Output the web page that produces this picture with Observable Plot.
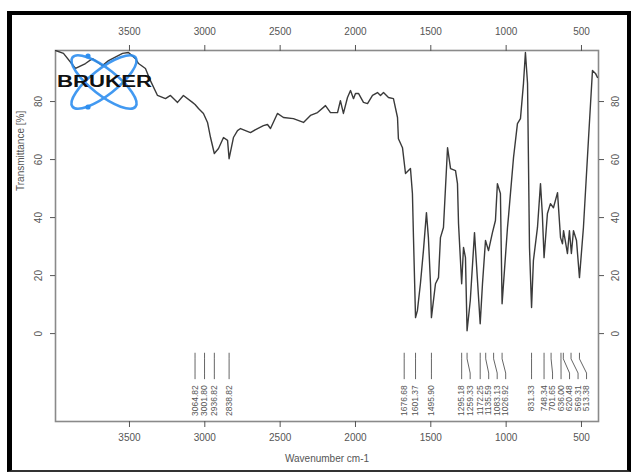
<!DOCTYPE html>
<html>
<head>
<meta charset="utf-8">
<script src="https://cdn.jsdelivr.net/npm/d3@7"></script>
<script src="https://cdn.jsdelivr.net/npm/@observablehq/plot@0.6"></script>
<style>
  body { margin: 0; background: #fff; }
  #wrap { position: relative; width: 632px; height: 472px; overflow: hidden; font-family: "Liberation Sans", Arial, sans-serif; }
  #chart { position: absolute; left: 0; top: 0; }
  #logo { position: absolute; left: 0; top: 0; pointer-events: none; }
  #border { position: absolute; left: 7px; top: 11px; right: 1px; bottom: 0; box-sizing: border-box;
            border-left: 5px solid #000; border-top: 4px solid #000; border-right: 4px solid #000; border-bottom: 2px solid #333; pointer-events: none; }
</style>
</head>
<body>
<div id="wrap">
  <div id="chart"></div>
  <svg id="logo" width="632" height="472">
    <g fill="none" stroke="#2e8ff0" stroke-width="2.6" opacity="0.9">
      <ellipse cx="104" cy="82" rx="40" ry="13" transform="rotate(38 104 82)"></ellipse>
      <ellipse cx="104" cy="82" rx="40" ry="13" transform="rotate(-38 104 82)"></ellipse>
    </g>
    <circle cx="88" cy="107" r="2.6" fill="#2e8ff0"></circle>
    <circle cx="88" cy="56" r="2.6" fill="#2e8ff0"></circle>
    <text x="57" y="87" font-family="Liberation Sans, Arial, sans-serif" font-weight="bold" font-size="16"
          textLength="95" lengthAdjust="spacingAndGlyphs" fill="#111">BRUKER</text>
  </svg>
  <div id="border"></div>
</div>
<script>
// FT-IR spectrum: transmittance (%) against wavenumber (cm-1)
const wavenumber = [
  3990, 3938, 3858, 3792, 3746, 3679, 3639, 3546, 3507, 3460, 3440, 3394, 3361, 3314, 3261, 3228,
  3181, 3142, 3082, 3064.82, 3042, 3009, 2982, 2962, 2936.82, 2909, 2876, 2849, 2838.82, 2810, 2783, 2763,
  2697, 2650, 2611, 2584, 2564, 2518, 2478, 2412, 2345, 2299, 2252, 2199, 2166, 2119, 2100, 2080,
  2053, 2033, 2013, 2000, 1980, 1947, 1920, 1887, 1854, 1834, 1814, 1781, 1748, 1721, 1715, 1688,
  1668, 1635, 1622, 1615, 1601.37, 1589, 1569, 1549, 1529, 1516, 1502, 1495.90, 1469, 1449, 1436, 1416,
  1389, 1369, 1336, 1323, 1316, 1295.18, 1283, 1270, 1259.33, 1238, 1210, 1172.25, 1157, 1137, 1117, 1091,
  1071, 1058, 1038, 1026.92, 991, 985, 951, 925, 905, 885, 872, 858, 845, 831.33, 819, 792,
  772, 760, 748.34, 726, 706, 686, 659, 639, 626, 619, 593, 580, 567, 553, 533, 513.38,
  487, 454, 427, 407, 394
];
const transmittance = [
  97.6, 96.6, 91.4, 93.1, 94.8, 92.4, 94.1, 96.6, 96.9, 94.8, 93.1, 91.4, 87.2, 82.1, 81.0, 82.1,
  79.7, 82.1, 79.7, 79.0, 77.6, 75.9, 72.8, 67.6, 62.1, 63.8, 67.6, 66.6, 60.3, 67.6, 70.0, 70.7,
  69.3, 70.7, 71.7, 72.1, 70.7, 75.9, 74.5, 74.1, 72.8, 75.2, 76.2, 78.6, 76.2, 76.2, 80.3, 75.9,
  81.4, 83.8, 81.0, 82.8, 82.8, 79.7, 79.3, 82.1, 83.1, 82.1, 83.1, 81.4, 81.0, 74.5, 67.2, 64.1,
  55.2, 56.9, 48.3, 33.1, 5.5, 7.9, 17.2, 28.6, 41.7, 33.1, 17.2, 5.5, 17.2, 19.3, 33.1, 36.6,
  64.1, 56.9, 56.2, 51.7, 37.9, 17.2, 29.7, 26.2, 1.0, 11.4, 34.8, 3.4, 17.2, 32.1, 28.6, 34.8,
  39.0, 51.7, 48.3, 10.3, 36.6, 40.0, 60.7, 72.4, 74.1, 86.2, 96.9, 86.2, 29.7, 9.0, 25.2, 36.6,
  51.7, 41.4, 26.2, 41.4, 44.8, 43.4, 48.6, 33.1, 31.0, 35.5, 27.6, 35.5, 27.6, 35.5, 32.1, 19.3,
  36.6, 66.6, 90.7, 89.7, 88.3
];

// picked peaks (cm-1)
const peakPositions = [
  3064.82, 3001.80, 2936.82, 2838.82,
  1676.68, 1601.37, 1495.90,
  1295.18, 1259.33, 1172.25, 1135.59, 1083.13, 1026.92,
  831.33, 748.34, 701.65, 636.00, 620.48, 569.31, 513.38
];

const xTicks = [3500, 3000, 2500, 2000, 1500, 1000, 500];
const yTicks = [0, 20, 40, 60, 80];

const xLabel = "Wavenumber cm-1";
const yLabel = "Transmittance [%]";

// layout
const W = 632, H = 472;
const margin = {top: 50, right: 34, bottom: 51, left: 55};
const xDomain = [3991, 387];
const yDomain = [-30.3, 97.6];
// peak-label ladder, in transmittance units below the baseline
const ladder = {top: -6.6, bend1: -8.7, bend2: -13.6, bottom: -15.7, text: -17.8};
const labelGap = 8.5;

const spectrum = wavenumber.map((w, i) => ({w, t: transmittance[i]}));

// spread crowded peak labels to the right so they do not overlap
const xs = Plot.scale({x: {domain: xDomain, range: [margin.left, W - margin.right]}});
let prev = -Infinity;
const peakRows = peakPositions.slice().sort((a, b) => b - a).map((p) => {
  const px = Math.max(xs.apply(p), prev + labelGap);
  prev = px;
  return {peak: p, label: xs.invert(px), text: p.toFixed(2)};
});

const grey = "#555";
const plain = (d) => String(d);
const chart = Plot.plot({
  width: W,
  height: H,
  marginTop: margin.top,
  marginRight: margin.right,
  marginBottom: margin.bottom,
  marginLeft: margin.left,
  style: {fontFamily: "Liberation Sans, Arial, sans-serif", background: "transparent"},
  x: {domain: xDomain, range: [margin.left, W - margin.right]},
  y: {domain: yDomain},
  marks: [
    Plot.frame({stroke: "#8a8a8a", strokeWidth: 1.6}),
    Plot.axisX({anchor: "bottom", ticks: xTicks, tickFormat: plain, tickSize: 6, tickPadding: 6, fontSize: 10, color: grey, label: null}),
    Plot.axisX({anchor: "top", ticks: xTicks, tickFormat: plain, tickSize: 6, tickPadding: 10, fontSize: 10, color: grey, label: null}),
    Plot.axisY({anchor: "left", ticks: yTicks, tickFormat: plain, tickSize: 5, tickPadding: 9, tickRotate: -90, fontSize: 10, color: grey, label: null}),
    Plot.axisY({anchor: "right", ticks: yTicks, tickFormat: plain, tickSize: 5, tickPadding: 8, tickRotate: -90, lineAnchor: "top", fontSize: 10, color: grey, label: null}),
    Plot.text([xLabel], {frameAnchor: "bottom", dy: 40, fontSize: 10, fill: grey}),
    Plot.text([yLabel], {frameAnchor: "left", dx: -35, dy: -45, rotate: -90, fontSize: 10, fill: grey}),
    Plot.line(spectrum, {x: "w", y: "t", stroke: "#3a3a3a", strokeWidth: 1.4, clip: true}),
    Plot.link(peakRows, {x1: "peak", x2: "peak", y1: ladder.top, y2: ladder.bend1, stroke: "#666"}),
    Plot.link(peakRows, {x1: "peak", x2: "label", y1: ladder.bend1, y2: ladder.bend2, stroke: "#666"}),
    Plot.link(peakRows, {x1: "label", x2: "label", y1: ladder.bend2, y2: ladder.bottom, stroke: "#666"}),
    Plot.text(peakRows, {x: "label", y: ladder.text, text: "text", rotate: -90, textAnchor: "end", lineAnchor: "middle", fontSize: 8.5, fill: grey})
  ]
});
document.getElementById("chart").append(chart);
</script>
</body>
</html>
